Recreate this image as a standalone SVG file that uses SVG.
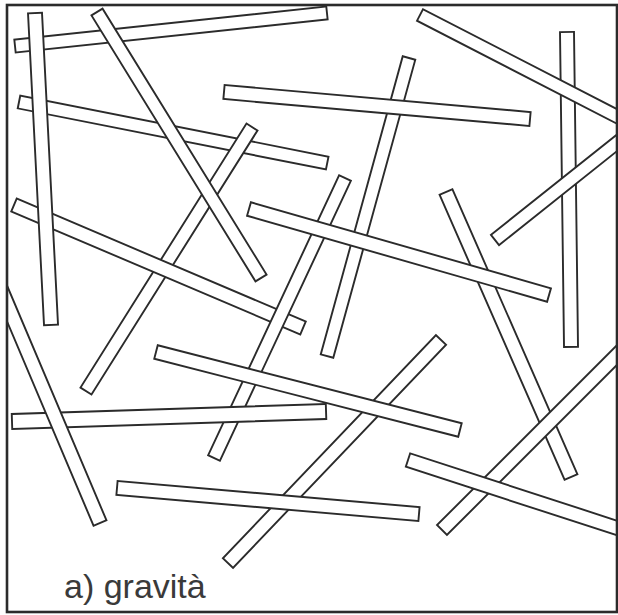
<svg xmlns="http://www.w3.org/2000/svg" width="618" height="615" viewBox="0 0 618 615">
<style>
.s{fill:#fff;stroke:#2b2b2b;stroke-width:1.9;stroke-linejoin:miter}
.lbl{font-family:"Liberation Sans",Arial,sans-serif;font-size:34px;fill:#3a3a3a}
</style>
<defs>
<clipPath id="frame"><rect x="7" y="5" width="610" height="607"/></clipPath>
</defs>
<rect x="0" y="0" width="618" height="615" fill="#fff"/>
<g id="sticks" clip-path="url(#frame)">
<rect id="s1" class="s" x="0" y="-6.5" width="313.7" height="13" transform="translate(15 46) rotate(-6.04)"/>
<rect id="s3" class="s" x="0" y="-6.5" width="314.2" height="13" transform="translate(19 102) rotate(11.2)"/>
<rect id="s6" class="s" x="0" y="-6.5" width="311.9" height="13" transform="translate(252 127) rotate(122.16)"/>
<rect id="s7" class="s" x="0" y="-7" width="314.1" height="14" transform="translate(14 205) rotate(23.05)"/>
<rect id="s10" class="s" x="0" y="-6.5" width="309.1" height="13" transform="translate(345 178) rotate(115.07)"/>
<rect id="s9" class="s" x="0" y="-6.5" width="309.1" height="13" transform="translate(409 58) rotate(105.38)"/>
<rect id="s5" class="s" x="0" y="-7" width="307.2" height="14" transform="translate(224 92) rotate(5.04)"/>
<rect id="s14" class="s" x="0" y="-7" width="311.2" height="14" transform="translate(446 192) rotate(66.32)"/>
<rect id="s8" class="s" x="0" y="-7" width="312.1" height="14" transform="translate(249 209) rotate(16.0)"/>
<rect id="s4" class="s" x="0" y="-6.5" width="312.5" height="13" transform="translate(97 12) rotate(58.34)"/>
<rect id="s2" class="s" x="0" y="-7" width="312.4" height="14" transform="translate(35 13) rotate(87.06)"/>
<rect id="s16" class="s" x="0" y="-7.5" width="314.2" height="15" transform="translate(12 421.5) rotate(-1.82)"/>
<rect id="s17" class="s" x="0" y="-7" width="320" height="14" transform="translate(100 523) rotate(-112.96)"/>
<rect id="s19" class="s" x="0" y="-7" width="308.4" height="14" transform="translate(441 340) rotate(133.69)"/>
<rect id="s15" class="s" x="0" y="-7" width="313.8" height="14" transform="translate(156 352) rotate(14.39)"/>
<rect id="s18" class="s" x="0" y="-7" width="303.1" height="14" transform="translate(117 488) rotate(4.92)"/>
<rect id="s12" class="s" x="0" y="-7" width="315" height="14" transform="translate(567 32) rotate(89.27)"/>
<rect id="s11" class="s" x="0" y="-6.5" width="312" height="13" transform="translate(420 15) rotate(27.25)"/>
<rect id="s13" class="s" x="0" y="-6.5" width="312" height="13" transform="translate(495 240) rotate(-38.55)"/>
<rect id="s21" class="s" x="0" y="-7" width="312" height="14" transform="translate(442 530) rotate(-45)"/>
<rect id="s20" class="s" x="0" y="-7" width="312" height="14" transform="translate(408 460) rotate(18.02)"/>
</g>
<rect id="border" x="7" y="5" width="610" height="607" fill="none" stroke="#2b2b2b" stroke-width="2.6"/>
<text id="label" class="lbl" x="64" y="598">a) gravità</text>
</svg>
